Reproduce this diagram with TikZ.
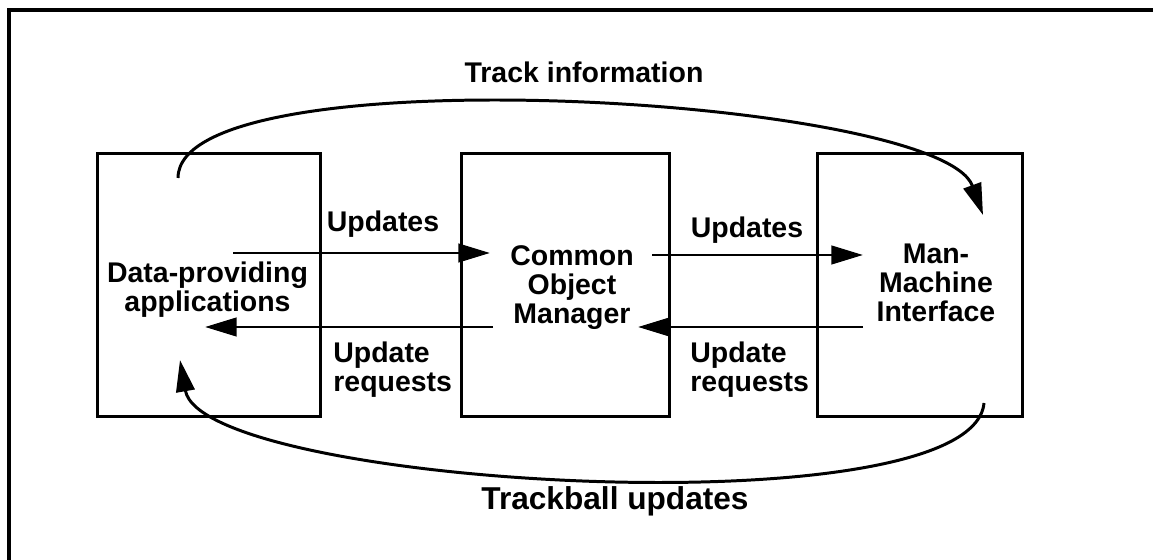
\documentclass[tikz,border=0pt]{standalone}
\usepackage{fontspec}
\setmainfont{Liberation Sans}
\usetikzlibrary{calc}
\usetikzlibrary{arrows.meta}

\begin{document}
\begin{tikzpicture}[x=0.02cm,y=0.02cm,
  thickline/.style={line width=1.7pt},
  unit/.style={draw,thickline,minimum height=5.28cm,inner sep=0pt},
  txt/.style={font=\fontsize{16.2}{16.5}\selectfont\bfseries,inner sep=0pt,align=center},
  flow/.style={thickline,-{Triangle[length=18pt,width=10.5pt]}}]

\useasboundingbox (0,0) rectangle (1153,-560);
\clip (0,0) rectangle (1153,-560);
\draw[line width=2pt] (9,-10) rectangle (1180,-590);

\node[unit,minimum width=4.48cm] (dpa) at (209,-285) {};
\node[unit,minimum width=4.18cm] (com) at (565.5,-285) {};
\node[unit,minimum width=4.12cm] (mmi) at (920,-285) {};

\node[txt] (dpatext) at (207.5,-290) {Data-providing\\applications};
\node[txt] (comtext) at (572,-288) {Common\\Object\\Manager};
\node[txt] (mmitext) at (936,-283) {Man-\\Machine\\Interface};

\coordinate (upl0) at (233,-253);
\coordinate (upl1) at (490,-253);
\coordinate (upr0) at (652,-255);
\coordinate (upr1) at (863,-255);
\coordinate (rql0) at (493,-327);
\coordinate (rql1) at (205,-327);
\coordinate (rqr0) at (863,-327);
\coordinate (rqr1) at (638,-327);
\coordinate (tin0) at (178,-178);
\coordinate (tin1) at (983,-215);
\coordinate (tbu0) at (984,-403);
\coordinate (tbu1) at (180,-360);

\draw[flow] (upl0) -- (upl1);
\draw[flow] (upr0) -- (upr1);
\draw[flow] (rql0) -- (rql1);
\draw[flow] (rqr0) -- (rqr1);

\draw[flow] (tin0) to[out=90,in=110,looseness=0.4] (tin1);
\draw[flow] (tbu0) to[out=-95,in=-80,looseness=0.41] (tbu1);

\node[txt] (updl) at (383,-224) {Updates};
\node[txt] (updr) at (747,-230) {Updates};
\node[txt,align=left,anchor=west] (reql) at (333,-370) {Update\\requests};
\node[txt,align=left,anchor=west] (reqr) at (690,-370) {Update\\requests};
\node[txt,anchor=base] (tinfo) at (584,-83) {Track information};
\node[txt,font=\fontsize{18}{20}\selectfont\bfseries] (tball) at (615,-501) {Trackball updates};

\end{tikzpicture}
\end{document}
